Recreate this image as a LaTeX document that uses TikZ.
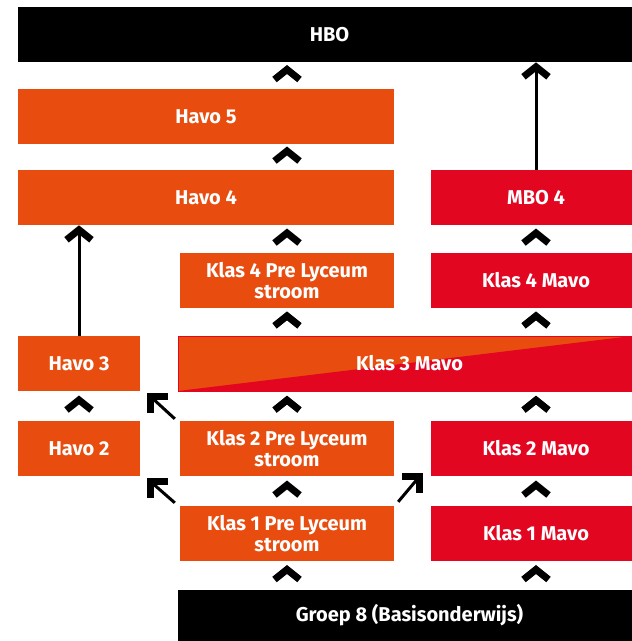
\documentclass[tikz,border=0pt]{standalone}
\usepackage{fontspec}
\setmainfont{Fira Sans}
\usetikzlibrary{calc}
\definecolor{cor}{RGB}{232,77,15}
\definecolor{cred}{RGB}{227,6,33}
\tikzset{
  box/.style={rectangle, inner sep=0pt, minimum height=55pt, text=white,
    font=\fontsize{20}{21.5}\selectfont\bfseries, align=center},
  obox/.style={box, fill=cor},
  rbox/.style={box, fill=cred},
  kbox/.style={box, fill=black},
  thick line/.style={line width=3pt},
  chev/.pic={\draw[line width=7pt, line join=miter] (-12.5,10) -- (0,0) -- (12.5,10);},
  lhead/.pic={\draw[line width=7pt, line join=miter] (3.5,20) -- (3.5,3.5) -- (21,3.5);},
}
\begin{document}
\begin{tikzpicture}[x=1pt,y=-1pt]
\useasboundingbox (0,0) rectangle (632,641);
\clip (0,0) rectangle (632,641);
% boxes
\node[kbox, minimum width=623pt] (hbo) at (329.5,34.5) {HBO};
\node[obox, minimum width=376pt] (havo5) at (206,116.5) {Havo 5};
\node[obox, minimum width=376pt] (havo4) at (206,197.5) {Havo 4};
\node[rbox, minimum width=210pt] (mbo4) at (536,197.5) {MBO 4};
\node[obox, minimum width=214pt] (k4p) at (287,280.5) {Klas 4 Pre Lyceum\\stroom};
\node[rbox, minimum width=210pt] (k4m) at (536,280.5) {Klas 4 Mavo};
\node[obox, minimum width=122pt] (havo3) at (79,363.5) {Havo 3};
\node[box, minimum width=463pt, draw=cred, line width=0.8pt,
  path picture={
    \fill[cor] (path picture bounding box.north west) rectangle (path picture bounding box.south east);
    \fill[cred] (path picture bounding box.south west) -- ($(path picture bounding box.north east)+(-9,0)$) -- (path picture bounding box.north east) -- (path picture bounding box.south east) -- cycle;
  }] (k3m) at (409.5,363.5) {Klas 3 Mavo};
\node[obox, minimum width=122pt] (havo2) at (79,448.5) {Havo 2};
\node[obox, minimum width=214pt] (k2p) at (287,448.5) {Klas 2 Pre Lyceum\\stroom};
\node[rbox, minimum width=210pt] (k2m) at (536,448.5) {Klas 2 Mavo};
\node[obox, minimum width=214pt] (k1p) at (287,533.5) {Klas 1 Pre Lyceum\\stroom};
\node[rbox, minimum width=210pt] (k1m) at (536,533.5) {Klas 1 Mavo};
\node[kbox, minimum width=463pt, minimum height=51pt] (g8) at (409.5,615.5) {Groep 8 (Basisonderwijs)};
% chevrons, centre column
\pic at ($(k4p.north |- havo5.north)!0.5!(k4p.north |- hbo.south)+(0,-6)$) {chev};
\pic at ($(k4p.north |- havo4.north)!0.5!(k4p.north |- havo5.south)+(0,-6)$) {chev};
\pic at ($(k4p.north)!0.5!(k4p.north |- havo4.south)+(0,-6)$) {chev};
\pic at ($(k4p.south)!0.5!(k4p.south |- k3m.north)+(0,-6)$) {chev};
\pic at ($(k2p.north)!0.5!(k2p.north |- k3m.south)+(0,-6)$) {chev};
\pic at ($(k1p.north)!0.5!(k2p.south)+(0,-6)$) {chev};
\pic at ($(k1p.south)!0.5!(k1p.south |- g8.north)+(0,-6)$) {chev};
% chevrons, right column
\pic at ($(k4m.north)!0.5!(mbo4.south)+(0,-6)$) {chev};
\pic at ($(k4m.south)!0.5!(k4m.south |- k3m.north)+(0,-6)$) {chev};
\pic at ($(k2m.north)!0.5!(k2m.north |- k3m.south)+(0,-6)$) {chev};
\pic at ($(k1m.north)!0.5!(k2m.south)+(0,-6)$) {chev};
\pic at ($(k1m.south)!0.5!(k1m.south |- g8.north)+(0,-6)$) {chev};
% chevron, left column
\pic at ($(havo2.north)!0.5!(havo3.south)+(0,-6)$) {chev};
% long arrows
\draw[thick line] (havo3.north) -- ($(havo3.north |- havo4.south)+(0,8.6)$);
\pic at ($(havo3.north |- havo4.south)+(0,4.6)$) {chev};
\draw[thick line] (mbo4.north) -- ($(mbo4.north |- hbo.south)+(0,8.6)$);
\pic at ($(mbo4.north |- hbo.south)+(0,4.6)$) {chev};
% diagonal arrows
\draw[thick line] ($(k2p.north west)+(-5,-2)$) -- ($(havo3.south east)+(10.5,5.5)$);
\pic at ($(havo3.south east)+(7,2)$) {lhead};
\draw[thick line] ($(k1p.north west)+(-5,-3)$) -- ($(havo2.south east)+(10.5,5.5)$);
\pic at ($(havo2.south east)+(7,2)$) {lhead};
\draw[thick line] ($(k1p.north east)+(4,-4)$) -- ($(k2m.south west)+(-11.5,0.5)$);
\pic[xscale=-1] at ($(k2m.south west)+(-8,-3)$) {lhead};
\end{tikzpicture}
\end{document}
